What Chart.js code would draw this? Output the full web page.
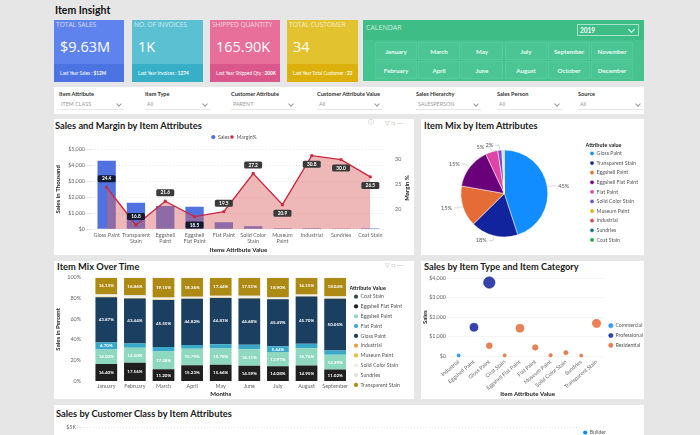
<!DOCTYPE html>
<html>
<head>
<meta charset="utf-8">
<title>Item Insight</title>
<script src="https://cdn.jsdelivr.net/npm/chart.js@4"></script>
<style>
html,body{margin:0;padding:0;width:700px;height:435px;overflow:hidden;background:#e6e6e6;font-family:Lato,sans-serif;}
.abs,.panel,.card,.cell,.flt,.sel,canvas{position:absolute;}
.panel{background:#fff;}
.ttl{position:absolute;font-weight:700;font-size:9.3px;line-height:12px;color:#1a1a1a;white-space:nowrap;}
.card{top:20px;height:62px;color:#fff;overflow:hidden;}
.card .h{position:absolute;left:2px;top:0;font-size:6.6px;line-height:9px;opacity:.72;white-space:nowrap;font-family:"Open Sans",sans-serif;}
.card .v{position:absolute;left:6px;top:17px;font-size:14.5px;line-height:20px;white-space:nowrap;font-family:"Open Sans",sans-serif;}
.card .f{position:absolute;left:0;right:0;bottom:0;height:18px;padding-left:6px;font-size:4.7px;line-height:18px;white-space:nowrap;}
.cell{width:42px;height:18px;background:#4ac593;border:.5px solid #55ca9b;box-sizing:border-box;color:#eafaf3;font-weight:700;font-size:6.2px;line-height:17px;text-align:center;}
.flt{top:90px;font-size:5.6px;line-height:7px;font-weight:700;color:#333;white-space:nowrap;}
.sel{top:98px;width:65px;height:12px;border-bottom:.5px solid #e6e6e6;font-size:5.4px;line-height:12px;color:#999;padding-left:2px;box-sizing:border-box;}
.sel:after{content:"";position:absolute;right:3px;top:4px;width:3px;height:3px;border-right:.6px solid #999;border-bottom:.6px solid #999;transform:rotate(45deg);}
.ic{position:absolute;font-size:6px;line-height:8px;color:#aaa;}
</style>
</head>
<body>
<div class="ttl" style="left:55px;top:3px;font-size:10.5px;line-height:14px;color:#111">Item Insight</div>

<div class="card" style="left:54px;width:70px;background:#5f83ec"><div class="h">TOTAL SALES</div><div class="v">$9.63M</div><div class="f" style="background:#4b74e2">Last Year Sales : <b>$12M</b></div></div>
<div class="card" style="left:132px;width:71px;background:#5cc0d3"><div class="h">NO. OF INVOICES</div><div class="v">1K</div><div class="f" style="background:#37b0c7">Last Year Invoices : <b>1274</b></div></div>
<div class="card" style="left:210px;width:70px;background:#e76f9a"><div class="h">SHIPPED QUANTITY</div><div class="v">165.90K</div><div class="f" style="background:#d9578a">Last Year Shipped Qty : <b>200K</b></div></div>
<div class="card" style="left:287px;width:71px;background:#e3c22f"><div class="h">TOTAL CUSTOMER</div><div class="v">34</div><div class="f" style="background:#dcb10b">Last Year Total Customer : <b>22</b></div></div>

<div class="abs" style="left:363px;top:20px;width:281px;height:61px;background:#47c38f">
  <div class="abs" style="left:0;top:0;width:281px;height:20px;background:#3fbd87"></div>
  <div class="abs" style="left:3px;top:3px;font-size:7px;line-height:9px;color:#cdeede;font-family:'Open Sans',sans-serif">CALENDAR</div>
  <div class="abs" style="left:214px;top:4px;width:62px;height:12px;border:.6px solid #a6e2c8;box-sizing:border-box;color:#fff;font-weight:700;font-size:6.5px;line-height:12px;padding-left:2px">2019<span class="abs" style="right:4px;top:2px;width:4px;height:4px;border-right:.7px solid #dff;border-bottom:.7px solid #dff;transform:rotate(45deg)"></span></div>
  <div id="months"></div>
</div>

<div class="panel" style="left:54px;top:87px;width:590px;height:27px"></div>
<div id="filters"></div>

<div class="panel" style="left:54px;top:119px;width:360px;height:136px"></div>
<div class="ttl" style="left:55px;top:120px">Sales and Margin by Item Attributes</div>
<div class="ic" style="left:368px;top:118px">&#9432;</div>
<div class="ic" style="left:385px;top:119px">&#9661; &#9633; &#8943;</div>
<canvas id="salesMargin" style="left:54px;top:132px" width="360" height="123"></canvas>

<div class="panel" style="left:421px;top:119px;width:223px;height:136px"></div>
<div class="ttl" style="left:424px;top:120px">Item Mix by Item Attributes</div>
<canvas id="itemMix" style="left:421px;top:132px" width="227" height="123"></canvas>

<div class="panel" style="left:54px;top:261px;width:360px;height:138px"></div>
<div class="ttl" style="left:57px;top:261px">Item Mix Over Time</div>
<div class="ic" style="left:385px;top:261px">&#9661; &#9633; &#8943;</div>
<canvas id="mixTime" style="left:54px;top:272px" width="360" height="127"></canvas>

<div class="panel" style="left:421px;top:261px;width:223px;height:138px"></div>
<div class="ttl" style="left:424px;top:261px">Sales by Item Type and Item Category</div>
<canvas id="typeCat" style="left:421px;top:272px" width="232" height="127"></canvas>

<div class="panel" style="left:54px;top:405px;width:590px;height:30px"></div>
<div class="ttl" style="left:56px;top:408px">Sales by Customer Class by Item Attributes</div>
<canvas id="custClass" style="left:54px;top:423px" width="590" height="120"></canvas>

<script>
// top row slicers
var monthNames = ["January","March","May","July","September","November","February","April","June","August","October","December"];
var filterNames = ["Item Attribute","Item Type","Customer Attribute","Customer Attribute Value","Sales Hierarchy","Sales Person","Source"];
var filterValues = ["ITEM CLASS","All","PARENT","All","SALESPERSON","All","All"];

// sales and margin
var attrLabels = [["Gloss Paint"],["Transparent","Stain"],["Eggshell","Paint"],["Eggshell","Flat Paint"],["Flat Paint"],["Solid Color","Stain"],["Museum","Paint"],["Industrial"],["Sundries"],["Coat Stain"]];
var salesK = [4300,1650,1450,1400,420,170,50,40,30,50];
var marginPct = [24.4,16.8,21.6,18.5,19.5,27.2,20.9,30.8,30.0,26.5];
var marginBelow = [false,false,false,true,false,false,true,true,true,true];
var salesTicks = [0,1000,2000,3000,4000,5000];
var marginTicks = [20,25,30];

// item mix pie
var mixNames = ["Gloss Paint","Transparent Stain","Eggshell Paint","Eggshell Flat Paint","Flat Paint","Solid Color Stain","Museum Paint","Industrial","Sundries","Coat Stain"];
var mixValues = [45,17.6,15.2,15.2,4.6,1.5,0.3,0.2,0.2,0.2];
var mixShown = ["45%","18%","15%","15%","5%","2%"];
var mixColors = ["#118dff","#12239e","#e66c37","#6b007b","#e044a7","#744ec2","#d9b300","#d64550","#197278","#1aab40"];

// item mix over time
var months = ["January","February","March","April","May","June","July","August","September"];
var coatStain = [0.1,0.1,0.1,0.1,0.1,0.1,0.1,0.1,0.1];
var eggshellFlat = [16.40,17.56,11.20,15.23,15.66,14.59,14.08,14.95,11.02];
var eggshellPaint = [14.02,14.50,17.28,15.79,15.78,16.11,13.97,16.76,14.29];
var flatPaint = [6.70,4.2,4.3,3.7,4.1,4.4,5.44,4.2,4.2];
var glossPaint = [43.87,43.44,45.55,44.82,44.81,44.68,45.49,45.70,50.05];
var industrial = [0.3,0.3,0.2,0.2,0.2,0.2,0.2,0.2,0.2];
var museumPaint = [0.2,0.2,0.2,0.1,0.2,0.2,0.1,0.2,0.2];
var solidColor = [1.3,1.6,1.2,1.0,1.0,1.3,1.0,1.0,1.1];
var sundries = [0.98,1.24,0.82,0.7,0.71,0.91,0.72,0.74,0.8];
var transparentStain = [16.13,16.86,19.15,18.36,17.44,17.51,18.90,16.15,18.04];
var percentTicks = [0,20,40,60,80,100];

// sales by type and category
var typeLabels = ["Industrial","Eggshell Paint","Gloss Paint","Coat Stain","Eggshell Flat Paint","Flat Paint","Museum Paint","Solid Color Stain","Sundries","Transparent Stain"];
var commercialX = ["Industrial"];
var commercialY = [30];
var professionalX = ["Eggshell Paint","Gloss Paint"];
var professionalY = [1480,3780];
var residentialX = ["Gloss Paint","Coat Stain","Eggshell Flat Paint","Flat Paint","Museum Paint","Solid Color Stain","Sundries","Transparent Stain"];
var residentialY = [530,30,1430,440,40,170,25,1680];
var typeTicks = [0,1000,2000,3000,4000];

var txt = "#666";
var fontFam = "Lato,sans-serif";
Chart.defaults.font.family = fontFam;
Chart.defaults.font.size = 6;
Chart.defaults.color = txt;
Chart.defaults.animation = false;
Chart.defaults.responsive = false;
Chart.defaults.devicePixelRatio = 1;

function money(v){ return "$" + v.toLocaleString("en-US"); }
function useTicks(list){ return function(s){ s.ticks = list.map(function(v){ return {value:v}; }); }; }
function fixW(w){ return function(s){ s.width = w; }; }
function fixH(h){ return function(s){ s.height = h; }; }
function axisTitle(t, pad){ return {display:true, text:t, color:"#222", font:{size:6.1, weight:"bold"}, padding:pad}; }
function legendItems(pad){ return {usePointStyle:true, boxWidth:4, boxHeight:3, padding:pad, font:{size:5.2}, color:"#555"}; }
var tickFont = {size:5.4, lineHeight:1};

// slicers are plain html
var m = document.getElementById("months");
var colX = [12,55,98,142,185,228];
monthNames.forEach(function(n, i){
    var d = document.createElement("div");
    d.className = "cell";
    d.style.left = colX[i % 6] + "px";
    d.style.top = (i < 6 ? 22 : 41) + "px";
    d.textContent = n;
    m.appendChild(d);
});
var fX = [59,145,231,317,416,497,578];
var fBox = document.getElementById("filters");
filterNames.forEach(function(n, i){
    var a = document.createElement("div");
    a.className = "flt"; a.style.left = fX[i] + "px"; a.textContent = n;
    var b = document.createElement("div");
    b.className = "sel"; b.style.left = fX[i] + "px"; b.textContent = filterValues[i];
    fBox.appendChild(a); fBox.appendChild(b);
});

// dark value tags on the margin line, plus the secondary axis title
var marginTags = {
    id:"marginTags",
    afterDatasetsDraw:function(c){
        var ctx = c.ctx, pts = c.getDatasetMeta(0).data;
        ctx.save();
        ctx.font = "bold 4.8px " + fontFam;
        ctx.textAlign = "center";
        ctx.textBaseline = "middle";
        pts.forEach(function(p, i){
            var y = p.y + (marginBelow[i] ? 8.5 : -8.5);
            var dark = (i == 0 || i == 1 || i == 3);
            ctx.fillStyle = dark ? "#111a2e" : "#3a3a3a";
            ctx.beginPath();
            ctx.roundRect(p.x - 9, y - 3.5, 18, 7, 1.5);
            ctx.fill();
            ctx.fillStyle = "#fff";
            ctx.fillText(marginPct[i].toFixed(1), p.x, y);
        });
        ctx.translate(353, 56);
        ctx.rotate(-Math.PI / 2);
        ctx.fillStyle = "#222";
        ctx.font = "bold 6.1px " + fontFam;
        ctx.fillText("Margin %", 0, 0);
        ctx.restore();
    }
};

new Chart(document.getElementById("salesMargin"), {
    type:"bar",
    data:{
        labels:attrLabels,
        datasets:[
            {type:"line", label:"Margin%", data:marginPct, yAxisID:"y1", order:0, borderColor:"#c9283e", backgroundColor:"rgba(219,98,98,.45)", fill:"start", borderWidth:1.4, tension:0, pointStyle:"rect", pointRadius:2, pointBackgroundColor:"#c9283e", pointBorderWidth:0},
            {label:"Sales", data:salesK, order:1, backgroundColor:"#4f72e0", barPercentage:.625, categoryPercentage:1, pointStyle:"circle"}
        ]
    },
    options:{
        layout:{padding:{top:2}},
        plugins:{
            legend:{position:"top", reverse:true, labels:legendItems(.5)},
            tooltip:{enabled:false}
        },
        scales:{
            x:{grid:{display:false, tickLength:0}, border:{display:false}, ticks:{font:tickFont, padding:4, maxRotation:0, autoSkip:false, color:txt}, title:axisTitle("Items Attribute Value",{top:0,bottom:1}), afterFit:fixH(26)},
            y:{min:0, max:5000, position:"left", grid:{color:"#dcdcdc", lineWidth:.7, tickLength:6}, border:{display:false, dash:[1,2]}, afterBuildTicks:useTicks(salesTicks), ticks:{callback:money, font:tickFont, padding:1}, title:axisTitle("Sales in Thousand",{top:0,bottom:0}), afterFit:fixW(38)},
            y1:{min:16, max:32, position:"right", grid:{display:false}, border:{display:false}, afterBuildTicks:useTicks(marginTicks), ticks:{font:tickFont, padding:2}, afterFit:fixW(29)}
        }
    },
    plugins:[marginTags]
});

// pie outside labels with small leader lines
var pieLabels = {
    id:"pieLabels",
    afterDatasetsDraw:function(c){
        var ctx = c.ctx;
        ctx.save();
        ctx.font = "5.6px " + fontFam;
        ctx.textBaseline = "middle";
        c.getDatasetMeta(0).data.forEach(function(a, i){
            if(!mixShown[i]) return;
            var mid = (a.startAngle + a.endAngle) / 2;
            var x1 = a.x + Math.cos(mid) * (a.outerRadius + 1), y1 = a.y + Math.sin(mid) * (a.outerRadius + 1);
            var x2 = a.x + Math.cos(mid) * (a.outerRadius + 5), y2 = a.y + Math.sin(mid) * (a.outerRadius + 5);
            var right = Math.cos(mid) > 0;
            var x3 = x2 + (right ? 4 : -4);
            ctx.strokeStyle = "#bbb"; ctx.lineWidth = .6;
            ctx.beginPath(); ctx.moveTo(x1, y1); ctx.lineTo(x2, y2); ctx.lineTo(x3, y2); ctx.stroke();
            ctx.fillStyle = "#555";
            ctx.textAlign = right ? "left" : "right";
            ctx.fillText(mixShown[i], x3 + (right ? 2 : -2), y2);
        });
        ctx.restore();
    }
};

new Chart(document.getElementById("itemMix"), {
    type:"pie",
    data:{labels:mixNames, datasets:[{data:mixValues, backgroundColor:mixColors, borderColor:"#fff", borderWidth:.5, radius:43.5}]},
    options:{
        layout:{padding:{left:2, right:0}},
        plugins:{
            legend:{position:"right", align:"start", title:{display:true, text:"Attribute value", position:"start", color:"#222", font:{size:5.4, weight:"bold"}, padding:{top:10.5, bottom:-2.5}},
                labels:legendItems(4.4)},
            tooltip:{enabled:false}
        }
    },
    plugins:[pieLabels]
});

// percent labels in the stacked bars
var stackLabels = {
    id:"stackLabels",
    afterDatasetsDraw:function(c){
        var ctx = c.ctx;
        ctx.save();
        ctx.font = "bold 4.5px " + fontFam;
        ctx.fillStyle = "#fff";
        ctx.textAlign = "center";
        ctx.textBaseline = "middle";
        c.data.datasets.forEach(function(ds, d){
            c.getDatasetMeta(d).data.forEach(function(b, i){
                if(ds.data[i] < 5) return;
                ctx.fillText(ds.data[i].toFixed(2) + "%", b.x, (b.y + b.base) / 2);
            });
        });
        ctx.restore();
    }
};

function stackSet(name, vals, color){
    return {label:name, data:vals, backgroundColor:color, barPercentage:.76, categoryPercentage:1, pointStyle:"circle"};
}
new Chart(document.getElementById("mixTime"), {
    type:"bar",
    data:{
        labels:months,
        datasets:[
            stackSet("Coat Stain", coatStain, "#3a4f4b"),
            stackSet("Eggshell Flat Paint", eggshellFlat, "#1f1f1f"),
            stackSet("Eggshell Paint", eggshellPaint, "#8fd8c0"),
            stackSet("Flat Paint", flatPaint, "#38a9c9"),
            stackSet("Gloss Paint", glossPaint, "#1b3f60"),
            stackSet("Industrial", industrial, "#e8a04a"),
            stackSet("Museum Paint", museumPaint, "#e8c040"),
            stackSet("Solid Color Stain", solidColor, "#f3efe0"),
            stackSet("Sundries", sundries, "#dfe3dc"),
            stackSet("Transparent Stain", transparentStain, "#ad8a14")
        ]
    },
    options:{
        layout:{padding:{right:2}},
        plugins:{
            legend:{position:"right", align:"start", title:{display:true, text:"Attribute Value", position:"start", color:"#222", font:{size:5.4, weight:"bold"}, padding:{top:14, bottom:-3}},
                labels:legendItems(4.6)},
            tooltip:{enabled:false}
        },
        scales:{
            x:{stacked:true, grid:{display:false, tickLength:0}, border:{display:false}, ticks:{font:tickFont, padding:3, maxRotation:0, autoSkip:false}, title:axisTitle("Months",{top:1,bottom:1}), afterFit:fixH(18)},
            y:{stacked:true, min:0, max:100, grid:{display:false}, border:{display:false}, afterBuildTicks:useTicks(percentTicks), ticks:{callback:function(v){ return v + "%"; }, font:tickFont}, title:axisTitle("Sales in Percent",{top:0,bottom:0}), afterFit:fixW(38)}
        }
    },
    plugins:[stackLabels]
});

// bubble radius follows sales
function bubbles(xs, ys){
    return xs.map(function(x, i){ return {x:x, y:ys[i], r:1.2 + .073 * Math.sqrt(ys[i])}; });
}
function bubbleSet(name, pts, color){
    return {label:name, data:pts, backgroundColor:color + "d9", borderColor:color, borderWidth:.6, clip:false, pointStyle:"circle"};
}
new Chart(document.getElementById("typeCat"), {
    type:"bubble",
    data:{
        labels:typeLabels,
        datasets:[
            bubbleSet("Commercial", bubbles(commercialX, commercialY), "#118dff"),
            bubbleSet("Professional", bubbles(professionalX, professionalY), "#12239e"),
            bubbleSet("Residential", bubbles(residentialX, residentialY), "#e66c37")
        ]
    },
    options:{
        plugins:{
            legend:{position:"right", labels:legendItems(4.6)},
            tooltip:{enabled:false}
        },
        scales:{
            x:{type:"category", labels:typeLabels, offset:true, grid:{display:false, tickLength:0}, border:{display:false}, ticks:{font:tickFont, minRotation:40, maxRotation:40, autoSkip:false, padding:3}, title:axisTitle("Item Attribute Value",{top:0,bottom:1}), afterFit:fixH(43)},
            y:{min:0, max:4000, grid:{color:"#eeeeee", lineWidth:.6, tickLength:4}, border:{display:false}, afterBuildTicks:useTicks(typeTicks), ticks:{callback:money, font:tickFont, padding:1}, title:axisTitle("Sales",{top:0,bottom:0}), afterFit:fixW(30)}
        }
    }
});

// bottom chart is cut off by the window, only its top edge shows
var customerSeries = ["Builder"];
var customerTicks = [5000];
new Chart(document.getElementById("custClass"), {
    type:"bar",
    data:{labels:[], datasets:customerSeries.map(function(n){ return {label:n, data:[], backgroundColor:"#118dff", pointStyle:"circle"}; })},
    options:{
        layout:{padding:{top:4, right:28}},
        plugins:{
            legend:{position:"right", align:"start", labels:legendItems(3)},
            tooltip:{enabled:false}
        },
        scales:{
            x:{display:false},
            y:{min:0, max:5000, grid:{color:"#dcdcdc", lineWidth:.7, tickLength:4}, border:{display:false, dash:[1,2]}, afterBuildTicks:useTicks(customerTicks), ticks:{callback:function(v){ return "$" + v / 1000 + "K"; }, font:tickFont, padding:1}, afterFit:fixW(27)}
        }
    }
});
</script>
</body>
</html>
